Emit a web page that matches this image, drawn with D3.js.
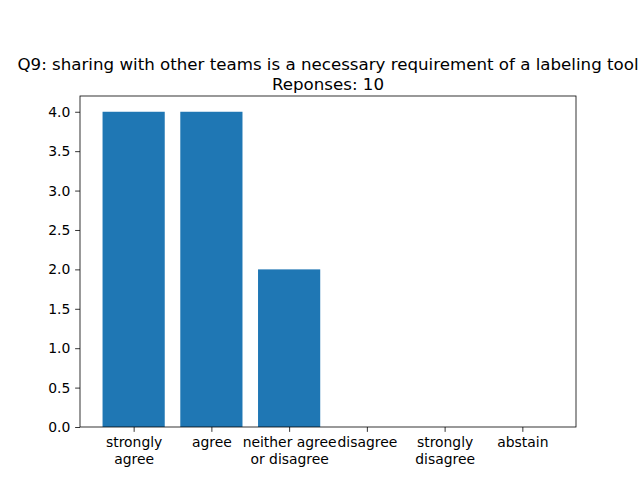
<!DOCTYPE html>
<html><head><meta charset="utf-8">
<script src="https://cdn.jsdelivr.net/npm/d3@7"></script>
<style>body{margin:0;background:#fff}svg text{font-family:"DejaVu Sans",sans-serif;fill:#000}</style>
</head><body><svg id="c" width="640" height="480"></svg>
<script>
const categories = [["strongly","agree"],["agree"],["neither agree","or disagree"],["disagree"],["strongly","disagree"],["abstain"]];
const values = [4,4,2,0,0,0];
const yTicks = [0,0.5,1,1.5,2,2.5,3,3.5,4];
const titleLines = ["Q9: sharing with other teams is a necessary requirement of a labeling tool","Reponses: 10"];

const svg = d3.select("#c");
const L=80,R=576,T=96,B=427;
const x = d3.scaleLinear().domain([-0.69,5.69]).range([L,R]);
const y = d3.scaleLinear().domain([0,4.2]).range([B,T]);
const idx = values.map((v,i)=>i);

svg.append("rect").attr("width",640).attr("height",480).attr("fill","#fff");
svg.selectAll("rect.bar").data(idx).enter().append("rect").attr("class","bar")
  .attr("x",i=>x(i-0.4)).attr("width",i=>x(i+0.4)-x(i-0.4))
  .attr("y",i=>y(values[i])).attr("height",i=>y(0)-y(values[i]))
  .attr("fill","#1f77b4");

// y axis
const ya = d3.axisLeft(y).tickValues(yTicks).tickFormat(d3.format(".1f")).tickSize(4.86).tickPadding(4);
const gy = svg.append("g").attr("transform",`translate(${L},0)`).call(ya);
gy.select(".domain").remove();
gy.selectAll("line").attr("stroke","#000").attr("stroke-width",0.8);
gy.selectAll("text").attr("font-size","13.9px").attr("dy","0.33em").attr("x",-9.7);

// x axis
const xa = d3.axisBottom(x).tickValues(idx).tickFormat("").tickSize(4.86);
const gx = svg.append("g").attr("transform",`translate(0,${B})`).call(xa);
gx.select(".domain").remove();
gx.selectAll("line").attr("stroke","#000").attr("stroke-width",0.8);
gx.selectAll(".tick").each(function(i){
  const t = d3.select(this).append("text").attr("text-anchor","middle").attr("font-size","13.9px");
  categories[i].forEach((s,k)=>t.append("tspan").attr("x",0).attr("y",9.7+13.9*0.76+k*16.7).text(s));
});

// frame
svg.append("rect").attr("x",L).attr("y",T).attr("width",R-L).attr("height",B-T)
  .attr("fill","none").attr("stroke","#000").attr("stroke-width",0.8);

// title
const tt = svg.append("text").attr("text-anchor","middle").attr("font-size","16.67px");
titleLines.forEach((s,k)=>tt.append("tspan").attr("x",(L+R)/2).attr("y",70+k*20).text(s));
</script></body></html>
